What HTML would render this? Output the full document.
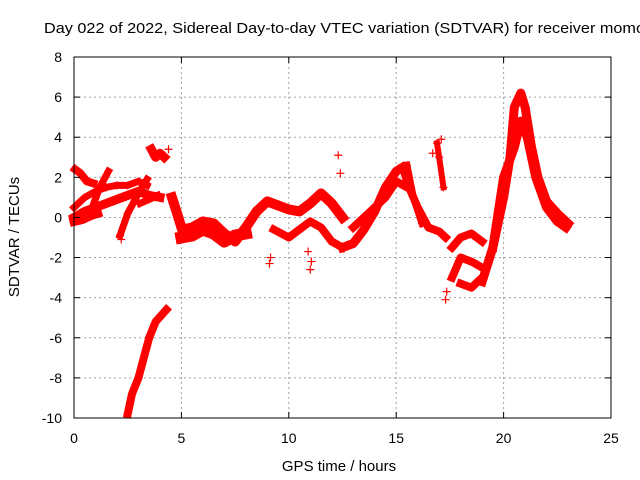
<!DOCTYPE html>
<html><head><meta charset="utf-8"><style>
body{margin:0;background:#fff;overflow:hidden;}
svg{display:block;font-family:"Liberation Sans",sans-serif;}
</style></head><body>
<svg id="c" width="640" height="480" viewBox="0 0 640 480">
<text x="44" y="33" font-size="15" fill="#000" textLength="601" lengthAdjust="spacingAndGlyphs">Day 022 of 2022, Sidereal Day-to-day VTEC variation (SDTVAR) for receiver momo</text>
<g id="grid"></g>
<g id="marks"></g>
<rect x="74" y="57" width="537" height="361" fill="none" stroke="#000" stroke-width="1"/>
<g id="ticks"></g>
<text x="339" y="471" font-size="15" text-anchor="middle">GPS time / hours</text>
<text transform="translate(19,237) rotate(-90)" font-size="15" text-anchor="middle">SDTVAR / TECUs</text>
</svg>
<script>
const xTicks=[0,5,10,15,20,25];
const yTicks=[8,6,4,2,0,-2,-4,-6,-8,-10];
const s1=[[0,0],[0.5,0.3],[1,0.5],[1.5,0.7],[2,0.9],[2.5,1.1],[3,1.3],[3.5,1.1],[4,1.0]];
const s2=[[0,0.5],[0.5,1.0],[1,1.3],[1.5,1.5],[2,1.6],[2.5,1.6],[3,1.8],[3.4,1.6]];
const s3=[[0.05,2.4],[0.3,2.2],[0.6,1.8],[0.9,1.7]];
const s4=[[0.85,0.5],[1.2,1.5],[1.6,2.3]];
const s5=[[2.14,-0.9],[2.5,0.2],[3.0,1.2],[3.4,1.9]];
const s6=[[3.07,0.7],[3.5,0.9],[3.9,1.1]];
const s7=[[3.6,3.4],[3.8,3.0],[4.0,3.2],[4.2,3.0]];
const s8=[[2.5,-9.8],[2.7,-8.8],[3.0,-8],[3.5,-6],[3.8,-5.2],[4.3,-4.6]];
const s9=[[4.56,1.0],[4.8,0.2],[5.03,-0.6],[5.5,-0.5],[6,-0.2],[6.5,-0.3],[7,-0.8],[7.5,-1.2],[8,-0.5],[8.5,0.3],[9,0.8],[9.5,0.6],[10,0.4],[10.5,0.3],[11,0.7],[11.5,1.2],[12,0.7],[12.5,0]];
const s10=[[5,-1],[5.5,-0.9],[6,-0.6],[6.5,-0.8],[7,-1.2],[7.5,-0.9],[8,-0.8]];
const s11=[[9.3,-0.6],[10,-1.0],[10.5,-0.6],[11,-0.2],[11.5,-0.5],[12,-1.2],[12.5,-1.5]];
const s12=[[12.5,-1.5],[13,-1.3],[13.5,-0.6],[14,0.3],[14.5,1.5],[15,2.3],[15.3,2.5]];
const s13=[[13,-0.5],[14,0.5],[14.5,1],[15,1.8],[15.5,1.5]];
const s14=[[15.3,2.5],[15.6,1.5],[16,0.5],[16.5,-0.5],[17,-0.7],[17.3,-1]];
const s15=[[15.5,2.6],[15.8,1.0],[16.2,-0.3]];
const s16=[[16.9,3.7],[17,3],[17.2,1.5]];
const s17=[[17.6,-1.5],[18,-1.0],[18.5,-0.8],[19,-1.2]];
const s18=[[17.6,-3],[18,-2.0],[18.5,-2.2],[19,-2.5]];
const s19=[[18,-3.3],[18.5,-3.5],[19,-3.0]];
const s20=[[19,-3.2],[19.5,-1.5],[20,1],[20.3,3],[20.5,5.5],[20.8,6.2],[21,5.5],[21.3,3.5],[21.6,2],[22,0.8],[22.5,0.2],[23,-0.3]];
const s21=[[19.5,-1.5],[20,2.0],[20.5,3.5],[20.8,4.8],[21.1,4],[21.5,2],[22,0.5],[22.5,-0.2],[22.9,-0.5]];
const s22=[[0,-0.2],[0.4,-0.1],[0.8,0.1],[1.1,0.2]];
const outliers=[[9.1,-2.3],[9.15,-2.0],[11,-2.6],[11.05,-2.2],[10.9,-1.7],[12.3,3.1],[12.4,2.2],[17.3,-4.1],[17.35,-3.7],[2.2,-1.1],[4.4,3.4],[16.7,3.2],[17.1,3.9]];
const series=[s1,s2,s3,s4,s5,s6,s7,s8,s9,s10,s11,s12,s13,s14,s15,s16,s17,s18,s19,s20,s21,s22];
const widths=[9,7,8,7,7,7,9,8,10,12,8,9,8,8,7,6,8,8,8,9,9,9];

const X=v=>74+v*(537/25);
const Y=v=>57+(8-v)*(361/18);
const NS="http://www.w3.org/2000/svg";
const grid=document.getElementById('grid'),ticks=document.getElementById('ticks'),marks=document.getElementById('marks');
function mk(tag,attrs,parent){const e=document.createElementNS(NS,tag);for(const k in attrs)e.setAttribute(k,attrs[k]);parent.appendChild(e);return e;}
xTicks.forEach(t=>{
  if(t>0&&t<25){const g=mk('line',{x1:X(t),x2:X(t),y1:57,y2:418,stroke:'#a0a0a0','stroke-dasharray':'2,3'},grid);
  
  }
  mk('line',{x1:X(t),x2:X(t),y1:418,y2:412,stroke:'#000'},ticks);
  mk('line',{x1:X(t),x2:X(t),y1:57,y2:63,stroke:'#000'},ticks);
  const l=mk('text',{x:X(t),y:443,'font-size':14,'text-anchor':'middle'},ticks);l.textContent=t;
  
  
});
yTicks.forEach(t=>{
  if(t<8&&t>-10){const g=mk('line',{x1:74,x2:611,y1:Y(t),y2:Y(t),stroke:'#a0a0a0','stroke-dasharray':'2,3'},grid);
  
  }
  mk('line',{x1:74,x2:80,y1:Y(t),y2:Y(t),stroke:'#000'},ticks);
  mk('line',{x1:605,x2:611,y1:Y(t),y2:Y(t),stroke:'#000'},ticks);
  const l=mk('text',{x:62,y:Y(t)+5,'font-size':14,'text-anchor':'end'},ticks);l.textContent=t;
  
  
});
function plus(x,y){
  const p=mk('path',{d:`M${x-4},${y}h8M${x},${y-4}v8`,stroke:'#f00','stroke-width':1.2},marks);
  
  
}
series.forEach((s,i)=>{
  const pl=mk('polyline',{points:s.map(p=>X(p[0])+','+Y(p[1])).join(' '),fill:'none',stroke:'#f00','stroke-width':widths[i],'stroke-linejoin':'round','stroke-linecap':'square'},marks);
  
  
  s.forEach(p=>plus(X(p[0]),Y(p[1])));
});
outliers.forEach(p=>plus(X(p[0]),Y(p[1])));
</script>
</body></html>
